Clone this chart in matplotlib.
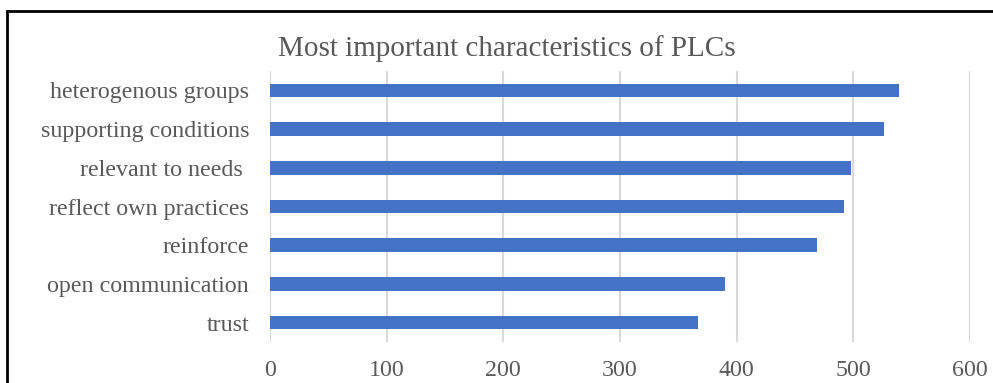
import matplotlib.pyplot as plt
from matplotlib.patches import Rectangle

categories = ["trust", "open communication", "reinforce", "reflect own practices",
              "relevant to needs ", "supporting conditions", "heterogenous groups"]
values = [367, 390, 469, 492, 498, 526, 539]
xticks = [0, 100, 200, 300, 400, 500, 600]

W, H = 993, 383
fig = plt.figure(figsize=(W / 100, H / 100), dpi=100)
plt.rcParams['font.family'] = ['Liberation Serif', 'DejaVu Serif']

# axes box in pixels: x 270..970, y 71..342
ax = fig.add_axes([270 / W, 1 - 342 / H, 700 / W, 271 / H])
ax.barh(range(len(categories)), values, height=0.35, color="#4472C4", zorder=3)
ax.set_xlim(0, 600)
ax.set_ylim(-0.5, len(categories) - 0.5)
ax.set_xticks(xticks)
ax.set_yticks(range(len(categories)))
ax.set_yticklabels(categories)
ax.tick_params(length=0, labelsize=17.3, labelcolor="#595959")
ax.tick_params(axis="x", pad=13)
ax.tick_params(axis="y", pad=15)
ax.grid(axis="x", color="#D9D9D9", linewidth=1.5, zorder=0)
for s in ax.spines.values():
    s.set_visible(False)

fig.text(507 / W, 1 - 49 / H, "Most important characteristics of PLCs",
         ha="center", va="center", fontsize=21, color="#595959")

# outer frame, cut off at right and bottom
fig.patches.append(Rectangle((7 / W, -0.1), 1.2, 1 - 11 / H + 0.1,
                             transform=fig.transFigure, fill=False,
                             edgecolor="black", linewidth=2))

fig.savefig("out.png", dpi=100)
